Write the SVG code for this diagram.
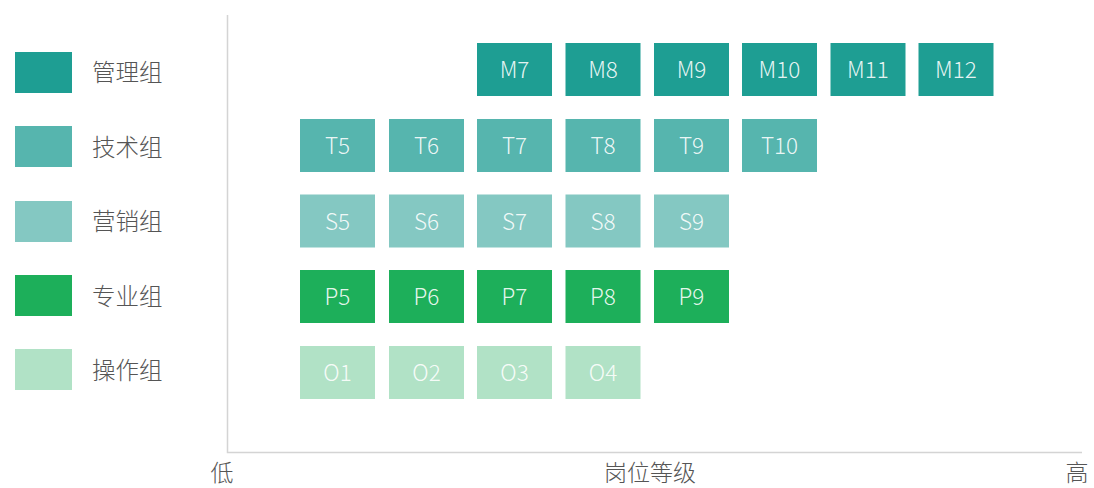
<svg xmlns="http://www.w3.org/2000/svg" width="1094" height="488" viewBox="0 0 1094 488">
<style>
text{font-family:"Noto Sans CJK SC","Noto Sans",sans-serif;}
.b text{fill:#ffffff;fill-opacity:0.9;font-size:22.5px;font-weight:300;text-anchor:middle;}
.lg text{fill:#555555;font-size:23.5px;font-weight:300;}
.ax{stroke:#d4d4d4;stroke-width:1.5;fill:none;}
.al{fill:#555555;font-size:23px;font-weight:300;}
.m{fill:#1e9e93}.t{fill:#56b5ae}.s{fill:#84c8c2}.p{fill:#1daf5a}.o{fill:#b1e2c6}
</style>
<g id="axes">
<path class="ax" d="M227.5 15 V452.5 H1082"/>
<text class="al" x="222" y="481" text-anchor="middle">低</text>
<text class="al" x="650" y="481" text-anchor="middle">岗位等级</text>
<text class="al" x="1077" y="481" text-anchor="middle">高</text>
</g>
<g id="legend" class="lg">
<g id="leg-m"><rect class="m" x="15" y="52" width="57" height="41"/><text x="92" y="81">管理组</text></g>
<g id="leg-t"><rect class="t" x="15" y="126" width="57" height="41"/><text x="92" y="156">技术组</text></g>
<g id="leg-s"><rect class="s" x="15" y="201" width="57" height="41"/><text x="92" y="230">营销组</text></g>
<g id="leg-p"><rect class="p" x="15" y="275" width="57" height="41"/><text x="92" y="305">专业组</text></g>
<g id="leg-o"><rect class="o" x="15" y="349" width="57" height="41"/><text x="92" y="379">操作组</text></g>
</g>
<g id="boxes" class="b">
<g id="M7"><rect class="m" x="477" y="43" width="75" height="53"/><text x="514.5" y="78">M7</text></g>
<g id="M8"><rect class="m" x="565.5" y="43" width="75" height="53"/><text x="603" y="78">M8</text></g>
<g id="M9"><rect class="m" x="654" y="43" width="75" height="53"/><text x="691.5" y="78">M9</text></g>
<g id="M10"><rect class="m" x="742" y="43" width="75" height="53"/><text x="779.5" y="78">M10</text></g>
<g id="M11"><rect class="m" x="830.5" y="43" width="75" height="53"/><text x="868" y="78">M11</text></g>
<g id="M12"><rect class="m" x="918.5" y="43" width="75" height="53"/><text x="956" y="78">M12</text></g>

<g id="T5"><rect class="t" x="300" y="119" width="75" height="53"/><text x="337.5" y="154">T5</text></g>
<g id="T6"><rect class="t" x="389" y="119" width="75" height="53"/><text x="426.5" y="154">T6</text></g>
<g id="T7"><rect class="t" x="477" y="119" width="75" height="53"/><text x="514.5" y="154">T7</text></g>
<g id="T8"><rect class="t" x="565.5" y="119" width="75" height="53"/><text x="603" y="154">T8</text></g>
<g id="T9"><rect class="t" x="654" y="119" width="75" height="53"/><text x="691.5" y="154">T9</text></g>
<g id="T10"><rect class="t" x="742" y="119" width="75" height="53"/><text x="779.5" y="154">T10</text></g>

<g id="S5"><rect class="s" x="300" y="194.5" width="75" height="53"/><text x="337.5" y="229.5">S5</text></g>
<g id="S6"><rect class="s" x="389" y="194.5" width="75" height="53"/><text x="426.5" y="229.5">S6</text></g>
<g id="S7"><rect class="s" x="477" y="194.5" width="75" height="53"/><text x="514.5" y="229.5">S7</text></g>
<g id="S8"><rect class="s" x="565.5" y="194.5" width="75" height="53"/><text x="603" y="229.5">S8</text></g>
<g id="S9"><rect class="s" x="654" y="194.5" width="75" height="53"/><text x="691.5" y="229.5">S9</text></g>

<g id="P5"><rect class="p" x="300" y="270" width="75" height="53"/><text x="337.5" y="305">P5</text></g>
<g id="P6"><rect class="p" x="389" y="270" width="75" height="53"/><text x="426.5" y="305">P6</text></g>
<g id="P7"><rect class="p" x="477" y="270" width="75" height="53"/><text x="514.5" y="305">P7</text></g>
<g id="P8"><rect class="p" x="565.5" y="270" width="75" height="53"/><text x="603" y="305">P8</text></g>
<g id="P9"><rect class="p" x="654" y="270" width="75" height="53"/><text x="691.5" y="305">P9</text></g>

<g id="O1"><rect class="o" x="300" y="346" width="75" height="53"/><text x="337.5" y="381">O1</text></g>
<g id="O2"><rect class="o" x="389" y="346" width="75" height="53"/><text x="426.5" y="381">O2</text></g>
<g id="O3"><rect class="o" x="477" y="346" width="75" height="53"/><text x="514.5" y="381">O3</text></g>
<g id="O4"><rect class="o" x="565.5" y="346" width="75" height="53"/><text x="603" y="381">O4</text></g>
</g>
</svg>
